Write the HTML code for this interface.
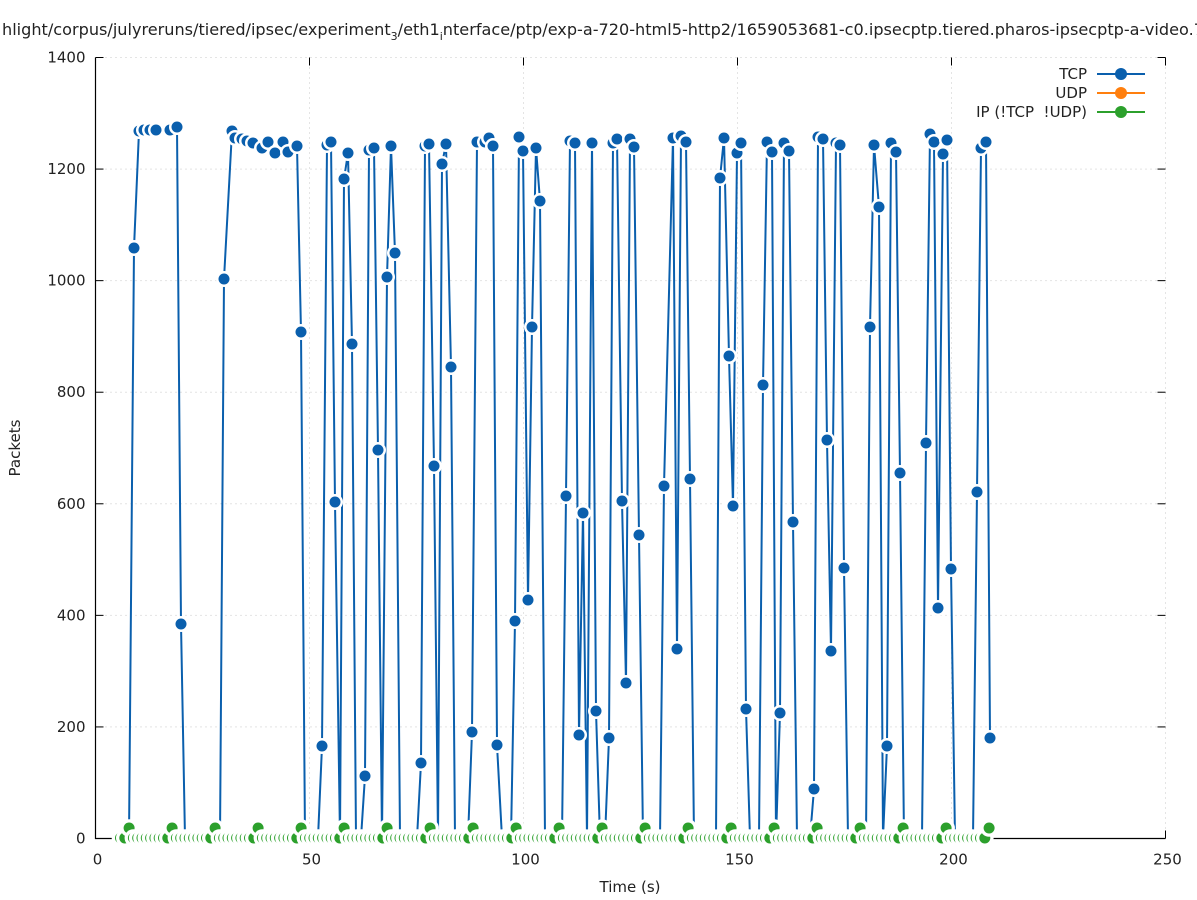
<!DOCTYPE html>
<html><head><meta charset="utf-8"><style>
html,body{margin:0;padding:0;background:#fff;}
svg{display:block;font-family:"DejaVu Sans","Liberation Sans",sans-serif;}
</style></head><body>
<svg id="s" width="1197" height="900" xmlns="http://www.w3.org/2000/svg">
<text x="2" y="35" font-size="16.1" fill="#222">hlight/corpus/julyreruns/tiered/ipsec/experiment<tspan font-size="11" dy="5">3</tspan><tspan dy="-5">/eth1</tspan><tspan font-size="11" dy="5">i</tspan><tspan dy="-5">nterface/ptp/exp-a-720-html5-http2/1659053681-c0.ipsecptp.tiered.pharos-ipsecptp-a-video.7</tspan></text>
<g id="grid" stroke="#c8c8c8" stroke-width="1" stroke-dasharray="1,4"></g>
<g id="axes"></g>
<g id="data"></g>
<g font-size="15" fill="#222" text-anchor="end">
<text x="1087" y="79">TCP</text>
<text x="1087" y="98">UDP</text>
<text x="1087" y="117">IP (!TCP&#160; !UDP)</text>
</g>
<g stroke-width="2">
<line x1="1097" y1="74" x2="1145" y2="74" stroke="#0a5fad"/><circle cx="1121" cy="74" r="6" fill="#0a5fad"/>
<line x1="1097" y1="93" x2="1145" y2="93" stroke="#ff7f0e"/><circle cx="1121" cy="93" r="6" fill="#ff7f0e"/>
<line x1="1097" y1="112" x2="1145" y2="112" stroke="#2ca02c"/><circle cx="1121" cy="112" r="6" fill="#2ca02c"/>
</g>
<text x="20" y="448" font-size="15" fill="#222" text-anchor="middle" transform="rotate(-90 20 448)">Packets</text>
<text x="630" y="892" font-size="15" fill="#222" text-anchor="middle">Time (s)</text>
</svg>
<script>
var NS="http://www.w3.org/2000/svg";
function el(p,t,a){var e=document.createElementNS(NS,t);for(var k in a)e.setAttribute(k,a[k]);p.appendChild(e);return e;}
var g=document.getElementById('grid'),ax=document.getElementById('axes'),d=document.getElementById('data');
var X0=95.5,X1=1165.5,Y0=838.5,Y1=57.5;
for(var i=0;i<=7;i++){var y=Y0-(Y0-Y1)*i/7;
 if(i>0)el(g,'line',{x1:X0,y1:y,x2:X1,y2:y});
 el(ax,'line',{x1:X0,y1:y,x2:X0+8,y2:y,stroke:'#000'});
 el(ax,'line',{x1:X1,y1:y,x2:X1-8,y2:y,stroke:'#000'});
 var t=el(ax,'text',{x:X0-10,y:y+5,'font-size':15,'text-anchor':'end',fill:'#222'});t.textContent=i*200;}
for(var i=0;i<=5;i++){var x=X0+(X1-X0)*i/5;
 if(i>0)el(g,'line',{x1:x,y1:Y0,x2:x,y2:Y1});
 el(ax,'line',{x1:x,y1:Y0,x2:x,y2:Y0-8,stroke:'#000'});
 el(ax,'line',{x1:x,y1:Y1,x2:x,y2:Y1+8,stroke:'#000'});
 var t=el(ax,'text',{x:x+2,y:Y0+26,'font-size':15,'text-anchor':'middle',fill:'#222'});t.textContent=i*50;}
el(ax,'path',{d:'M'+X0+' '+Y1+'V'+Y0+'H'+X1,stroke:'#000',fill:'none','stroke-width':1.2});
var Z=838;
var tcp=[[129,Z],[134,248],[139,131],[144,130],[150,130],[156,130],[170,130],[177,127],[181,624],[185,Z],[190,Z],[195,Z],[200,Z],[205,Z],[210,Z],[215,Z],[220,Z],[224,279],[232,131],[235,138],[242,139],[247,141],[253,143],[262,148],[268,142],[275,153],[283,142],[288,152],[297,146],[301,332],[305,Z],[318,Z],[322,746],[327,145],[331,142],[335,502],[340,Z],[344,179],[348,153],[352,344],[356,Z],[361,Z],[365,776],[369,150],[374,148],[378,450],[382,Z],[387,277],[391,146],[395,253],[400,Z],[417,Z],[421,763],[425,146],[429,144],[434,466],[438,Z],[442,164],[446,144],[451,367],[455,Z],[468,Z],[472,732],[477,142],[485,142],[489,138],[493,146],[497,745],[502,Z],[511,Z],[515,621],[519,137],[523,151],[528,600],[532,327],[536,148],[540,201],[545,Z],[562,Z],[566,496],[570,141],[575,143],[579,735],[583,513],[587,Z],[592,143],[596,711],[600,Z],[605,Z],[609,738],[613,143],[617,139],[622,501],[626,683],[630,139],[634,147],[639,535],[643,Z],[660,Z],[664,486],[673,138],[677,649],[681,136],[686,142],[690,479],[694,Z],[716,Z],[720,178],[724,138],[729,356],[733,506],[737,153],[741,143],[746,709],[750,Z],[759,Z],[763,385],[767,142],[772,152],[776,Z],[780,713],[784,143],[789,151],[793,522],[797,Z],[810,Z],[814,789],[818,137],[823,139],[827,440],[831,651],[836,143],[840,145],[844,568],[848,Z],[866,Z],[870,327],[874,145],[879,207],[883,Z],[887,746],[891,143],[896,152],[900,473],[904,Z],[922,Z],[926,443],[930,134],[934,142],[938,608],[943,154],[947,140],[951,569],[955,Z],[973,Z],[977,492],[981,148],[986,142],[990,738]];
function series(pts,col,wr){
 el(d,'polyline',{points:pts.map(function(p){return p.join(',')}).join(' '),fill:'none',stroke:col,'stroke-width':2});
 pts.forEach(function(p){el(d,'circle',{cx:p[0],cy:p[1],r:wr,fill:'#fff'});el(d,'circle',{cx:p[0],cy:p[1],r:5.5,fill:col});});
}
series(tcp,'#0a5fad',8);
var gr=[];for(var x=120.5,k=0;x<=991;x+=4.3,k++){gr.push([x,(k%10==2)?828:Z]);}
series(gr,'#2ca02c',8.8);
</script>
</body></html>
